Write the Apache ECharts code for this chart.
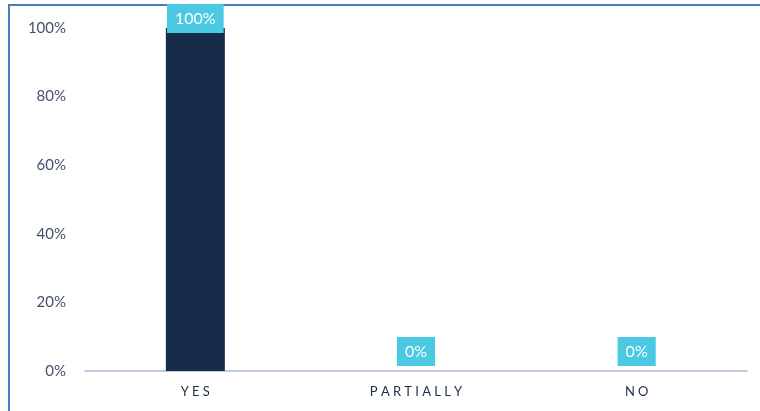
<!DOCTYPE html>
<html>
<head>
<meta charset="utf-8">
<script src="https://cdn.jsdelivr.net/npm/echarts@6/dist/echarts.min.js"></script>
<style>
  html, body { margin: 0; padding: 0; background: #fff; }
  #frame { position: absolute; left: 8px; top: 4px; width: 760px; height: 420px;
           border-left: 2.5px solid #4A7EBF; border-top: 2.5px solid #4A7EBF; }
  #chart { position: absolute; left: 0; top: 0; width: 760px; height: 411px; }
</style>
</head>
<body>
<div id="frame"></div>
<div id="chart"></div>
<script>
const categories = ['YES', 'PARTIALLY', 'NO'];
const values = [1.0, 0, 0];
const yTicks = [0, 0.2, 0.4, 0.6, 0.8, 1.0];

const chart = echarts.init(document.getElementById('chart'));
const fontFam = 'Lato, "Open Sans", sans-serif';

const data = values.map(function (v) {
  const item = { value: v };
  if (v >= 1) {
    item.label = { distance: -5 };
  }
  return item;
});

chart.setOption({
  animation: false,
  grid: { left: 85, right: 13, top: 28, bottom: 40 },
  xAxis: {
    type: 'category',
    data: categories,
    axisLine: { lineStyle: { color: '#A9BBD8', width: 1.5 } },
    axisTick: { show: false },
    axisLabel: {
      color: '#1F2D4A', fontSize: 13, fontFamily: fontFam, margin: 14,
      formatter: function (s) { return s.split('').join('\u2009\u2009'); }
    }
  },
  yAxis: {
    type: 'value',
    min: 0, max: 1, interval: 0.2,
    splitLine: { show: false },
    axisLine: { show: false },
    axisTick: { show: false },
    axisLabel: {
      color: '#44506A', fontSize: 15, fontFamily: fontFam, margin: 19,
      formatter: function (v) { return Math.round(v * 100) + '%'; }
    }
  },
  series: [{
    type: 'bar',
    data: data,
    barWidth: 59,
    itemStyle: { color: '#162A4A' },
    label: {
      show: true,
      position: 'top',
      distance: 5,
      color: '#FFFFFF',
      fontSize: 16,
      fontFamily: fontFam,
      backgroundColor: '#4BC9E3',
      padding: [7, 8, 6, 8],
      formatter: function (p) { return Math.round(p.value * 100) + '%'; }
    }
  }]
});
</script>
</body>
</html>
